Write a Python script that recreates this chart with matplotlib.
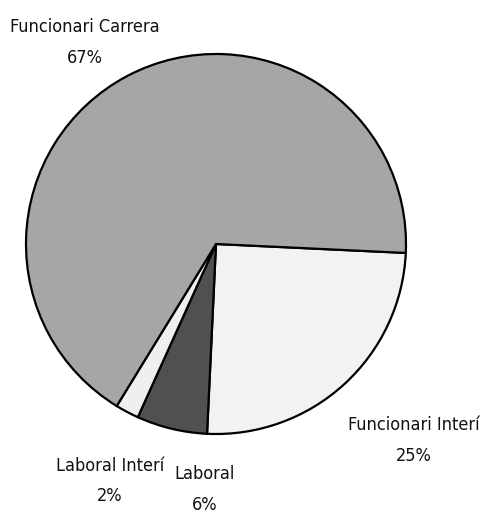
import matplotlib
matplotlib.use('Agg')
import matplotlib.pyplot as plt

## Datos del grafico
categories = ['Funcionari Interí', 'Laboral', 'Laboral Interí', 'Funcionari Carrera']
values = [25, 6, 2, 67]
colors = ['#f2f2f2', '#505050', '#efefef', '#a6a6a6']

## Posiciones de las etiquetas (centro del nombre y del porcentaje, pixeles desde arriba)
label_pos = [(414, 425, 456), (205, 474, 505), (110, 466, 496), (85, 27, 58)]

W, H = 482, 516
fig = plt.figure(figsize=(W / 100, H / 100), dpi=100)
ax = fig.add_axes([0, 0, 1, 1])

ax.pie(values, colors=colors, center=(216, H - 244), radius=190,
       startangle=-2.7, counterclock=False,
       wedgeprops=dict(edgecolor='black', linewidth=1.6))
ax.set_xlim(0, W) ; ax.set_ylim(0, H)
ax.set_aspect('equal') ; ax.axis('off')

total = sum(values)
font = dict(fontsize=13, family='DejaVu Sans', fontstretch='condensed', color='#111111',
            ha='center', va='center')
for cat, v, (px, py1, py2) in zip(categories, values, label_pos):
    ax.text(px, H - py1, cat, **font)
    ax.text(px, H - py2, '{:.0f}%'.format(100 * v / total), **font)

fig.savefig('out.png', dpi=100)
